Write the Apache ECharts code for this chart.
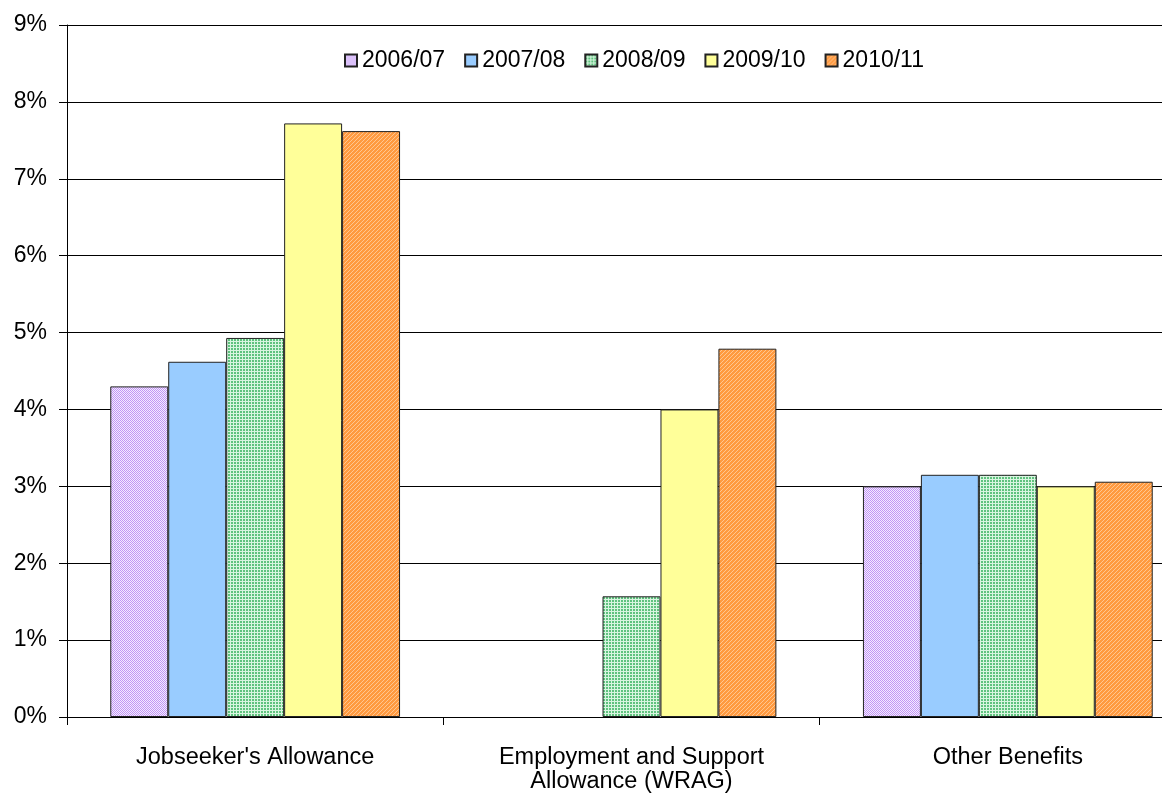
<!DOCTYPE html>
<html>
<head>
<meta charset="utf-8">
<script src="https://cdn.jsdelivr.net/npm/echarts@6/dist/echarts.min.js"></script>
<style>
  html, body { margin: 0; padding: 0; background: #fff; }
  #chart { width: 1162px; height: 796px; }
</style>
</head>
<body>
<div id="chart"></div>
<script>
// Benefit categories along the x axis
const categories = ["Jobseeker's Allowance", "Employment and Support\nAllowance (WRAG)", "Other Benefits"];
// Financial years (one bar series each)
const years = ["2006/07", "2007/08", "2008/09", "2009/10", "2010/11"];
// Rates in percent, one value per category
const y2006 = [4.30, null, 3.00];
const y2007 = [4.62, null, 3.15];
const y2008 = [4.93, 1.57, 3.15];
const y2009 = [7.72, 4.00, 3.00];
const y2010 = [7.62, 4.79, 3.06];
const seriesValues = [y2006, y2007, y2008, y2009, y2010];

// Small repeating fills for the patterned bars
function makePattern(size, draw) {
  const c = document.createElement('canvas');
  c.width = size; c.height = size;
  const ctx = c.getContext('2d');
  draw(ctx);
  return { image: c, repeat: 'repeat' };
}
const lavender = makePattern(4, ctx => {
  ctx.fillStyle = '#f4ecff'; ctx.fillRect(0, 0, 4, 4);
  ctx.fillStyle = '#c296f5';
  for (let y = 0; y < 4; y++) for (let x = 0; x < 4; x++) if ((x + y) % 2 === 0) ctx.fillRect(x, y, 1, 1);
});
const greenGrid = makePattern(3, ctx => {
  ctx.fillStyle = '#5fc27e'; ctx.fillRect(0, 0, 3, 3);
  ctx.fillStyle = '#d8f5e0'; ctx.fillRect(0, 2, 3, 1); ctx.fillRect(2, 0, 1, 3);
});
const orangeStripe = makePattern(4, ctx => {
  ctx.fillStyle = '#ff9a40'; ctx.fillRect(0, 0, 4, 4);
  ctx.fillStyle = '#ffc690';
  for (let i = 0; i < 4; i++) { ctx.fillRect((3 - i + 4) % 4, i, 1, 1); }
});
const fills = [lavender, '#99ccff', greenGrid, '#ffff99', orangeStripe];

const FONT = "'Liberation Sans', Arial, sans-serif";

const chart = echarts.init(document.getElementById('chart'), null, { renderer: 'canvas' });
chart.setOption({
  animation: false,
  backgroundColor: '#ffffff',
  textStyle: { fontFamily: FONT, color: '#000' },
  // the plot runs past the right edge of the page, so the last category is cut off
  grid: { left: 67, width: 1129, top: 25, height: 692, containLabel: false, outerBoundsMode: 'none' },
  legend: {
    top: 44, left: 339,
    itemWidth: 12, itemHeight: 12, itemGap: 19,
    icon: 'rect',
    textStyle: { fontFamily: FONT, fontSize: 23, color: '#000' },
    data: years
  },
  xAxis: {
    type: 'category',
    data: categories,
    axisLine: { lineStyle: { color: '#000', width: 1 } },
    axisTick: { show: true, length: 8, lineStyle: { color: '#000' } },
    axisLabel: { fontFamily: FONT, fontSize: 23.5, color: '#000', margin: 29, lineHeight: 24 }
  },
  yAxis: {
    type: 'value',
    min: 0, max: 9, interval: 1,
    axisLine: { show: true, lineStyle: { color: '#000', width: 1 } },
    axisTick: { show: true, length: 8, lineStyle: { color: '#000' } },
    axisLabel: { fontFamily: FONT, fontSize: 23, color: '#000', margin: 20, formatter: '{value}%' },
    splitLine: { show: true, lineStyle: { color: '#000', width: 1 } }
  },
  series: years.map((name, i) => ({
    name: name,
    type: 'bar',
    data: seriesValues[i],
    barGap: '0%',
    barCategoryGap: '23%',
    itemStyle: { color: fills[i], borderColor: '#222', borderWidth: 1 }
  }))
});
</script>
</body>
</html>
